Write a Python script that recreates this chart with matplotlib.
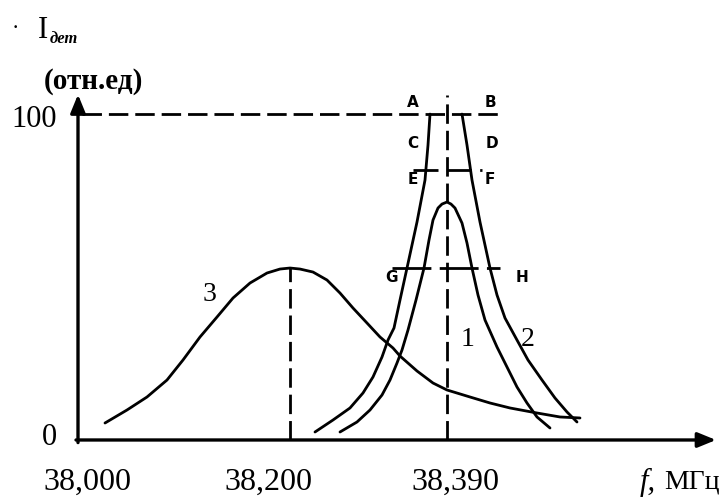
import numpy as np
import matplotlib
matplotlib.use("Agg")
import matplotlib.pyplot as plt

# ---- data (x in drawing units along the frequency axis, y in relative units 0..100) ----
curve3_x = [105, 127, 147, 167, 183, 200, 217, 233, 250, 267, 280, 290, 300, 313, 327, 340, 353,
            367, 380, 393, 400, 417, 433, 447, 470, 490, 510, 537, 560, 580]
curve3_y = [5.21, 9.20, 13.19, 18.40, 24.54, 31.60, 37.73, 43.56, 48.16, 51.23, 52.45, 52.76, 52.45,
            51.53, 49.08, 45.09, 40.49, 35.89, 31.60, 28.22, 25.76, 21.17, 17.48, 15.34, 13.19,
            11.35, 9.82, 8.28, 7.06, 6.75]

curve1_x = [340, 357, 370, 382, 390, 397, 402, 408, 416, 424, 429, 433, 438, 442, 447, 451, 455,
            462, 467, 472, 478, 485, 497, 507, 517, 527, 537, 550]
curve1_y = [2.45, 5.52, 9.20, 13.80, 18.40, 23.62, 27.61, 33.74, 42.94, 52.76, 61.35, 67.48, 71.17,
            72.39, 73.01, 72.39, 71.17, 66.56, 60.43, 52.76, 44.48, 36.81, 28.53, 22.39, 16.26,
            11.35, 7.06, 3.68]

curve2_left_x = [315, 333, 350, 363, 373, 382, 388, 394, 400, 407, 417, 425, 428, 430]
curve2_left_y = [2.45, 6.13, 9.82, 14.42, 19.33, 25.46, 30.67, 34.36, 42.94, 52.76, 66.87, 79.75,
                 90.49, 100]
curve2_right_x = [462, 467, 472, 480, 490, 497, 505, 517, 528, 542, 555, 567, 577]
curve2_right_y = [100, 90.49, 79.75, 66.87, 52.76, 44.48, 37.42, 30.67, 24.54, 18.40, 12.88, 8.59,
                  5.52]

tick_pos = [87, 268, 455]
tick_labels = ["38,000", "38,200", "38,390"]

peak3_x, peak3_y = 290, 52.8
center_x = 447
level_AB, level_EF, level_GH = 100, 82.8, 52.8
point_labels = ["A", "B", "C", "D", "E", "F", "G", "H"]
point_x = [413, 490, 413, 492, 413, 490, 392, 522]
point_y = [103.4, 103.4, 91.1, 91.1, 79.8, 79.8, 50.0, 50.0]

curve_names = ["1", "2", "3"]
curve_name_x = [468, 528, 210]
curve_name_y = [30.7, 30.7, 44.5]

# ---- figure ----
fig = plt.figure(figsize=(7.28, 4.98), dpi=100)
ax = fig.add_axes([0, 0, 1, 1])
ax.set_xlim(0, 728)
ax.set_ylim(-17.8, 135.0)
ax.axis("off")

serif = ["Liberation Serif", "DejaVu Serif"]
lw = 2.0
k = "black"
style = dict(color=k, lw=lw, solid_capstyle="round", solid_joinstyle="round")

# axes with arrows
ax.annotate("", xy=(716, 0), xytext=(76, 0),
            arrowprops=dict(arrowstyle="-|>,head_length=1.1,head_width=0.45", lw=2.4, color=k,
                            shrinkA=0, shrinkB=0))
ax.annotate("", xy=(78, 106), xytext=(78, -0.8),
            arrowprops=dict(arrowstyle="-|>,head_length=1.1,head_width=0.45", lw=2.4, color=k,
                            shrinkA=0, shrinkB=0))

# curves
ax.plot(curve3_x, curve3_y, **style)
ax.plot(curve1_x, curve1_y, **style)
ax.plot(curve2_left_x, curve2_left_y, **style)
ax.plot(curve2_right_x, curve2_right_y, **style)

# dashed guide lines
ax.plot([peak3_x, peak3_x], [0, peak3_y], color=k, lw=2.0, dashes=(7, 2.5))
ax.plot([center_x, center_x], [0, 106], color=k, lw=2.0, dashes=(7, 2.5))
ax.plot([82, 498], [level_AB, level_AB], color=k, lw=2.0, dashes=(7, 2.5))
ax.plot([413, 482], [level_EF, level_EF], color=k, lw=2.0, dashes=(9, 3))
ax.plot([392, 500], [level_GH, level_GH], color=k, lw=2.0, dashes=(14, 3))

# point letters
for s, x, y in zip(point_labels, point_x, point_y):
    ax.text(x, y, s, ha="center", va="center", fontsize=11, fontweight="bold",
            family=["DejaVu Sans"], color=k)

# curve numbers
for s, x, y in zip(curve_names, curve_name_x, curve_name_y):
    ax.text(x, y, s, ha="center", va="center", fontsize=20, family=serif, color=k)

# tick labels
for s, x in zip(tick_labels, tick_pos):
    ax.text(x, -12.9, s, ha="center", va="center", fontsize=23, family=serif, color=k)
ax.text(648, -12.9, "f,", ha="center", va="center", fontsize=22, family=serif,
        style="italic", color=k)
ax.text(692, -12.9, "МГц", ha="center", va="center", fontsize=20, family=serif, color=k)

ax.text(34, 98.2, "100", ha="center", va="center", fontsize=22, family=serif, color=k)
ax.text(49, 0.9, "0", ha="center", va="center", fontsize=22, family=serif, color=k)

# y-axis title
ax.text(15, 125.8, "·", ha="center", va="center", fontsize=16, family=serif, color=k)
ax.text(43, 125.5, "I", ha="center", va="center", fontsize=22, family=serif, color=k)
ax.text(64, 123.0, "дет", ha="center", va="center", fontsize=12, family=serif,
        style="italic", fontweight="bold", color=k)
ax.text(93, 110.1, "(отн.ед)", ha="center", va="center", fontsize=21, family=serif,
        fontweight="bold", color=k)

fig.savefig("out.png", dpi=100, facecolor="white")
